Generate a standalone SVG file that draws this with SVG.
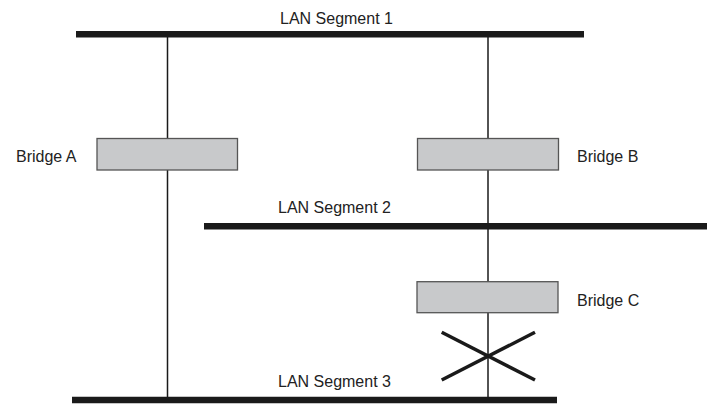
<svg xmlns="http://www.w3.org/2000/svg" width="713" height="405" viewBox="0 0 713 405">
<style>
.seg{stroke:#1a1a1a;stroke-width:6.5;fill:none}
.wire{stroke:#1a1a1a;stroke-width:1.5;fill:none}
.box{fill:#c8c9cb;stroke:#555;stroke-width:1.3}
.cross{stroke:#1a1a1a;stroke-width:3.5;fill:none}
text{font-family:"Liberation Sans",Arial,sans-serif;font-size:16px;fill:#222}
</style>
<rect width="713" height="405" fill="#fff"/>
<g id="connectors">
<line class="wire" x1="167.5" y1="36" x2="167.5" y2="398"/>
<line class="wire" x1="488" y1="36" x2="488" y2="398"/>
</g>
<g id="seg1"><line class="seg" x1="76" y1="34.3" x2="584" y2="34.3"/><text x="280" y="24">LAN Segment 1</text></g>
<g id="seg2"><line class="seg" x1="204" y1="226.2" x2="707" y2="226.2"/><text x="278" y="213">LAN Segment 2</text></g>
<g id="seg3"><line class="seg" x1="72" y1="400" x2="557" y2="400"/><text x="278" y="387">LAN Segment 3</text></g>
<g id="bridgeA"><rect class="box" x="97" y="138.5" width="140.5" height="31.5"/><text x="16" y="162">Bridge A</text></g>
<g id="bridgeB"><rect class="box" x="417.5" y="138.5" width="141" height="31.5"/><text x="577" y="162">Bridge B</text></g>
<g id="bridgeC"><rect class="box" x="417" y="281.7" width="141" height="31"/><text x="577" y="306">Bridge C</text></g>
<g id="blocked">
<line class="cross" x1="441.7" y1="332.3" x2="535" y2="380"/>
<line class="cross" x1="441.7" y1="380" x2="535" y2="332.3"/>
</g>
</svg>
